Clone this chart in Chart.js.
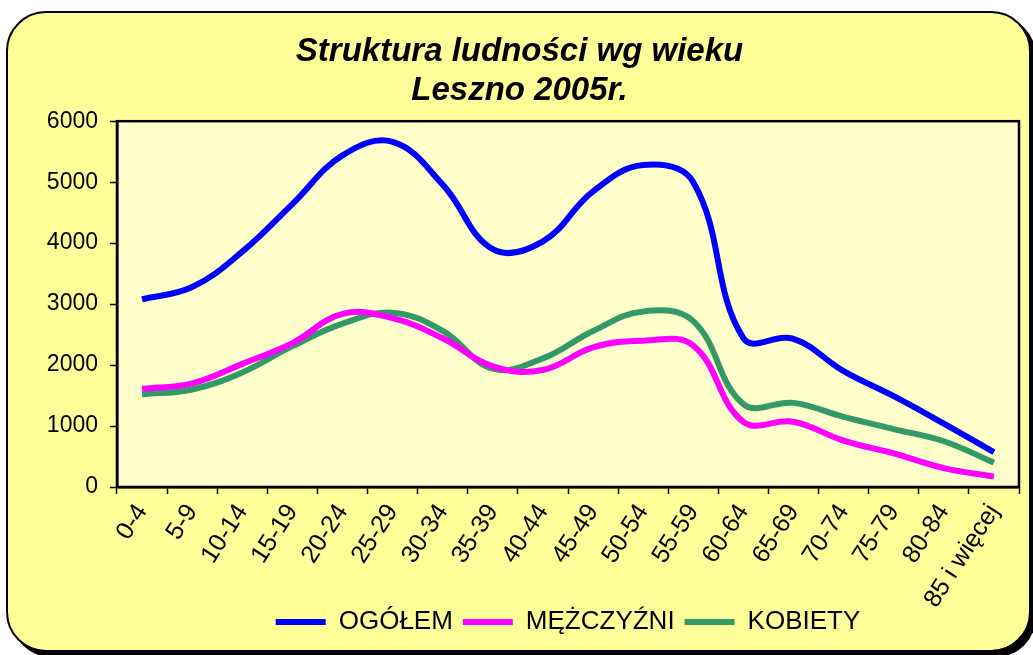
<!DOCTYPE html>
<html>
<head>
<meta charset="utf-8">
<script src="https://cdn.jsdelivr.net/npm/chart.js@4"></script>
<style>
  html, body { margin: 0; padding: 0; background: #fff; }
  #wrap { position: relative; width: 1033px; height: 655px; overflow: hidden; }
  #card {
    position: absolute; left: 6px; top: 11px; width: 1021px; height: 637px;
    background: #FFFF99; border: 2px solid #000; border-radius: 40px;
    box-shadow: 5px 5px 0 #000;
  }
  #myChart { position: absolute; left: 0; top: 0; }
</style>
</head>
<body>
<div id="wrap">
  <div id="card"></div>
  <canvas id="myChart" width="1033" height="655"></canvas>
</div>
<script>
const categories = ["0-4", "5-9", "10-14", "15-19", "20-24", "25-29", "30-34", "35-39", "40-44",
  "45-49", "50-54", "55-59", "60-64", "65-69", "70-74", "75-79", "80-84", "85 i więcej"];
const ogolem =    [3080, 3280, 3860, 4640, 5440, 5660, 4960, 3900, 4030, 4850, 5280, 5000, 2440, 2430, 1900, 1490, 1040, 570];
const mezczyzni = [1610, 1700, 2020, 2360, 2840, 2770, 2440, 1980, 1920, 2290, 2400, 2320, 1070, 1070, 760, 550, 310, 170];
const kobiety =   [1520, 1600, 1880, 2310, 2680, 2860, 2560, 1940, 2110, 2560, 2880, 2720, 1360, 1380, 1150, 950, 750, 400];
const yTicks = [0, 1000, 2000, 3000, 4000, 5000, 6000];

const FONT = "'Liberation Sans', Arial, sans-serif";

// plot area background + frame
const plotArea = {
  id: "plotArea",
  afterLayout(chart) {
    // let the long last x label run below the axis box (it is clipped otherwise)
    chart.scales.x.bottom = chart.height;
  },
  beforeDraw(chart) {
    const { ctx, chartArea: a } = chart;
    ctx.save();
    ctx.fillStyle = "#FFFFCC";
    ctx.fillRect(a.left, a.top, a.width, a.height);
    ctx.restore();
  },
  beforeDatasetsDraw(chart) {
    const { ctx, chartArea: a } = chart;
    ctx.save();
    ctx.strokeStyle = "#000";
    ctx.lineWidth = 2.5;
    ctx.strokeRect(a.left, a.top, a.width, a.height);
    ctx.restore();
  }
};

function line(label, data, color) {
  return {
    label: label,
    data: data,
    borderColor: color,
    backgroundColor: color,
    borderWidth: 6,
    pointRadius: 0,
    tension: 0.4,
    fill: false
  };
}

const canvas = document.getElementById("myChart");
const ctx = canvas.getContext("2d");

new Chart(ctx, {
  type: "line",
  data: {
    labels: categories,
    datasets: [
      line("OGÓŁEM", ogolem, "#0000FF"),
      line("MĘŻCZYŹNI", mezczyzni, "#FF00FF"),
      line("KOBIETY", kobiety, "#339966")
    ]
  },
  options: {
    responsive: false,
    animation: false,
    layout: { padding: { left: 20, right: 14, top: 32, bottom: 10 } },
    plugins: {
      title: {
        display: true,
        text: ["Struktura ludności wg wieku", "Leszno 2005r."],
        color: "#000",
        font: { family: FONT, size: 33, weight: "bold", style: "italic", lineHeight: 1.2 },
        padding: { top: 0, bottom: 10 }
      },
      legend: {
        position: "bottom",
        fullSize: false,
        labels: {
          color: "#000",
          font: { family: FONT, size: 26 },
          boxWidth: 50,
          boxHeight: 6,
          padding: 10,
          generateLabels: (chart) =>
            Chart.defaults.plugins.legend.labels.generateLabels(chart).map(l => ({ ...l, lineWidth: 0 }))
        }
      },
      tooltip: { enabled: false }
    },
    scales: {
      x: {
        offset: true,
        grid: { offset: true, drawOnChartArea: false, color: "#000", tickLength: 7, tickWidth: 1.5 },
        border: { color: "#000", width: 2.5 },
        ticks: {
          color: "#000",
          font: { family: FONT, size: 25 },
          minRotation: 57,
          maxRotation: 57,
          autoSkip: false,
          padding: 5
        },
        afterFit(scale) { scale.height = 112; }
      },
      y: {
        min: 0,
        max: 6000,
        afterBuildTicks(scale) { scale.ticks = yTicks.map(v => ({ value: v })); },
        grid: { drawOnChartArea: false, color: "#000", tickLength: 7, tickWidth: 1.5 },
        border: { color: "#000", width: 2.5 },
        ticks: {
          color: "#000",
          font: { family: FONT, size: 23 },
          padding: 12,
          callback: (v) => String(v)
        },
        afterFit(scale) { scale.width = 97; }
      }
    }
  },
  plugins: [plotArea]
});
</script>
</body>
</html>
